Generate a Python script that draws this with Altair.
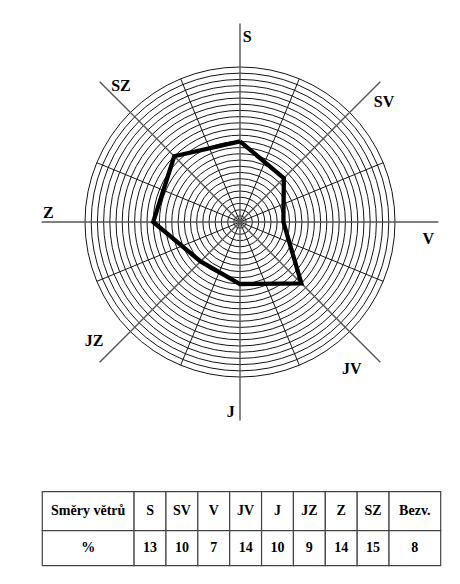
import altair as alt
import pandas as pd

# ---------------- data ----------------
directions = ["S", "SV", "V", "JV", "J", "JZ", "Z", "SZ"]
percent = [13, 10, 7, 14, 10, 9, 14, 15]
calm_label = "Bezv."
calm_value = 8
table_title = "Směry větrů"
table_unit = "%"
ring_values = list(range(1, 26))          # concentric rings, 1 % each

# ---------------- layout ----------------
PX = 6.2                 # pixels per percent
W, H = 444, 570          # whole drawing
CX, CY = 232, 214        # rose centre inside the drawing (px)
R_MAX = 25               # outer ring
R_AXIS = 32              # length of main direction lines
R_LABEL = 30             # label distance
label_dx = [7.3, 12.5, 2.3, -19.8, -9.3, -14.5, -5.7, 12.5]
label_dy = [1.3, 11.8, 17.3, 15.5, 3.7, -12.5, -8.7, -4.8]
FONT = "Liberation Serif"

T_LEFT_PX = -197.7       # table left edge relative to rose centre (px)
T_TOP_PX = 269.7         # table top edge below rose centre (px)
COL_PX = 31.87
col_widths = [2.88] + [1] * 8 + [1.62]
row_heights = [39, 35]

x_scale = alt.Scale(domain=[-CX / PX, (W - CX) / PX], nice=False, zero=False)
y_scale = alt.Scale(domain=[-(H - CY) / PX, CY / PX], nice=False, zero=False)
X = lambda f: alt.X(f, scale=x_scale, axis=None)
Y = lambda f: alt.Y(f, scale=y_scale, axis=None)

# ---------------- rose ----------------
rings = pd.DataFrame({"r": ring_values})
circles = alt.Chart(rings).transform_calculate(cx="0", cy="0").mark_point(
    shape="circle", filled=False, stroke="#151515", strokeWidth=1.0, opacity=1
).encode(
    x=X("cx:Q"), y=Y("cy:Q"),
    size=alt.Size("r:Q", legend=None,
                  scale=alt.Scale(type="pow", exponent=2, domain=[0, R_MAX],
                                  range=[0, (2 * R_MAX * PX) ** 2], zero=True)),
)

minor = pd.DataFrame({"a": [22.5 + 45 * k for k in range(8)]})
minor_spokes = alt.Chart(minor).transform_calculate(
    x0="0", y0="0",
    x1=f"{R_MAX}*sin(datum.a*PI/180)",
    y1=f"{R_MAX}*cos(datum.a*PI/180)",
).mark_rule(color="#151515", strokeWidth=1.0).encode(
    x=X("x0:Q"), y=Y("y0:Q"), x2="x1:Q", y2="y1:Q",
)

main = pd.DataFrame({"a": [45 * k for k in range(8)]})
main_lines = alt.Chart(main).transform_calculate(
    x0="0", y0="0",
    x1=f"{R_AXIS}*sin(datum.a*PI/180)",
    y1=f"{R_AXIS}*cos(datum.a*PI/180)",
).mark_rule(color="#555555", strokeWidth=1.4).encode(
    x=X("x0:Q"), y=Y("y0:Q"), x2="x1:Q", y2="y1:Q",
)

n = len(directions)
poly_df = pd.DataFrame({
    "dir": directions + [directions[0]],
    "v": percent + [percent[0]],
    "a": [45 * i for i in range(n)] + [0],
    "i": list(range(n + 1)),
})
polygon = alt.Chart(poly_df).transform_calculate(
    px="datum.v*sin(datum.a*PI/180)",
    py="datum.v*cos(datum.a*PI/180)",
).mark_line(color="black", strokeWidth=4.3, strokeJoin="miter").encode(
    x=X("px:Q"), y=Y("py:Q"), order="i:Q",
)

lab_df = pd.DataFrame({
    "dir": directions,
    "a": [45 * i for i in range(n)],
    "dx": label_dx,
    "dy": label_dy,
})
labels = alt.Chart(lab_df).transform_calculate(
    lx=f"{R_LABEL}*sin(datum.a*PI/180) + datum.dx/{PX}",
    ly=f"{R_LABEL}*cos(datum.a*PI/180) - datum.dy/{PX}",
).mark_text(font=FONT, fontSize=16, fontWeight="bold", color="black",
            align="center", baseline="middle").encode(
    x=X("lx:Q"), y=Y("ly:Q"), text="dir:N",
)

# ---------------- table ----------------
headers = [table_title] + directions + [calm_label]
values = [table_unit] + [str(v) for v in percent] + [str(calm_value)]
cum = [0.0]
for w in col_widths:
    cum.append(cum[-1] + w)
ycum = [0.0]
for h in row_heights:
    ycum.append(ycum[-1] + h)
rows = []
for r, texts in enumerate([headers, values]):
    for c, t in enumerate(texts):
        rows.append({
            "x0": (T_LEFT_PX + cum[c] * COL_PX) / PX,
            "x1": (T_LEFT_PX + cum[c + 1] * COL_PX) / PX,
            "y0": -(T_TOP_PX + ycum[r]) / PX,
            "y1": -(T_TOP_PX + ycum[r + 1]) / PX,
            "t": t,
        })
table_df = pd.DataFrame(rows)

cells = alt.Chart(table_df).mark_rect(fill="white", stroke="#444444", strokeWidth=1.2).encode(
    x=X("x0:Q"), x2="x1:Q", y=Y("y0:Q"), y2="y1:Q",
)
cell_text = alt.Chart(table_df).transform_calculate(
    cx="(datum.x0+datum.x1)/2", cy="(datum.y0+datum.y1)/2"
).mark_text(font=FONT, fontSize=14, fontWeight="bold", color="black",
            align="center", baseline="middle").encode(
    x=X("cx:Q"), y=Y("cy:Q"), text="t:N",
)

chart = alt.layer(
    circles, minor_spokes, main_lines, polygon, labels, cells, cell_text
).properties(width=W, height=H, padding=0).configure_view(strokeWidth=0)
chart.save("out.html", embed_options={"renderer": "svg", "actions": False})
